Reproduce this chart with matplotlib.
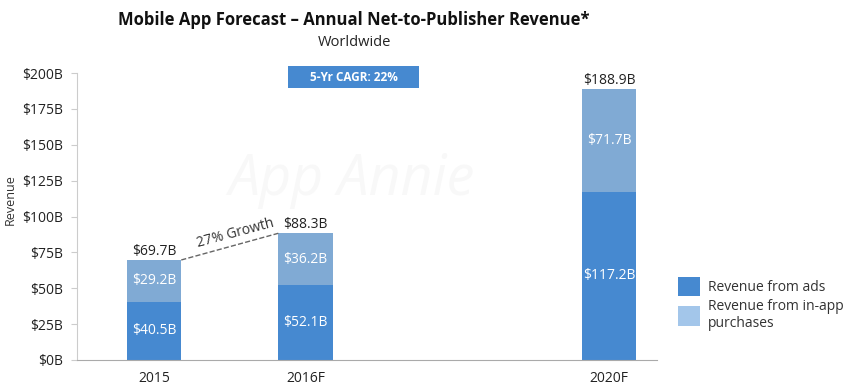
import matplotlib
matplotlib.use("Agg")
import matplotlib.pyplot as plt
from matplotlib.patches import Patch, Rectangle

plt.rcParams['font.family'] = ['Open Sans', 'DejaVu Sans']

categories = ["2015", "2016F", "2020F"]
positions = [0, 1, 3]
ads = [40.5, 52.1, 117.2]
inapp = [29.2, 36.2, 71.7]
totals = [69.7, 88.3, 188.9]
yticks = [0, 25, 50, 75, 100, 125, 150, 175, 200]

c_ads = "#4689d0"
c_inapp = "#80aad4"
c_inapp_leg = "#a3c6ea"

fig = plt.figure(figsize=(8.61, 3.89), dpi=100)
ax = fig.add_axes([77/861, 1-360/389, (657-77)/861, (360-73)/389])

w = 0.36
ax.bar(positions, ads, width=w, color=c_ads, zorder=2)
ax.bar(positions, inapp, width=w, bottom=ads, color=c_inapp, zorder=2)

for p, a, i, t in zip(positions, ads, inapp, totals):
    ax.text(p, a/2, f"${a}B", ha="center", va="center", color="white", fontsize=10)
    ax.text(p, a + i/2, f"${i}B", ha="center", va="center", color="white", fontsize=10)
    ax.text(p, t + 0.8, f"${t}B", ha="center", va="bottom", color="#222222", fontsize=10)

# growth dashed line
ax.plot([positions[0] + w/2, positions[1] - w/2], [totals[0], totals[1]],
        ls="--", color="#666666", lw=1, zorder=3)
ax.text((positions[0] + positions[1]) / 2 + 0.04, (totals[0] + totals[1]) / 2 + 9,
        "27% Growth", ha="center", va="center", rotation=15, fontsize=10, color="#333333")

# CAGR box
ax.add_patch(Rectangle((0.882, 189.5), 0.868, 15.4, facecolor=c_ads, edgecolor="none",
                       clip_on=False, zorder=3))
ax.text(1.316, 197.2, "5-Yr CAGR: 22%", ha="center", va="center", color="white",
        fontsize=8.5, fontweight="bold", zorder=4)

# watermark
ax.text(1.3, 125, "App Annie", ha="center", va="center", fontsize=40, color="#f8f8f8",
        style="italic", zorder=0)

ax.set_xlim(-0.507, 3.316)
ax.set_ylim(0, 200)
ax.set_yticks(yticks)
ax.set_yticklabels([f"${v}B" for v in yticks])
ax.set_xticks(positions)
ax.set_xticklabels(categories)
ax.tick_params(axis="y", length=4, color="#cccccc", labelsize=10, labelcolor="#222222", pad=6)
ax.tick_params(axis="x", length=0, labelsize=10, labelcolor="#222222", pad=8)
ax.spines["top"].set_visible(False)
ax.spines["right"].set_visible(False)
ax.spines["left"].set_color("#cccccc")
ax.spines["bottom"].set_color("#aaaaaa")

fig.text(10/861, 1-200/389, "Revenue", rotation=90, ha="center", va="center",
         fontsize=9, color="#333333")

fig.text(354/861, 1-20/389, "Mobile App Forecast \u2013 Annual Net-to-Publisher Revenue*",
         ha="center", va="center", fontsize=12, fontweight="bold", color="#111111")
fig.text(354/861, 1-42/389, "Worldwide", ha="center", va="center", fontsize=10.5, color="#222222")

handles = [Patch(facecolor=c_ads, edgecolor="none"),
           Patch(facecolor=c_inapp_leg, edgecolor="none")]
fig.legend(handles, ["Revenue from ads", "Revenue from in-app\npurchases"],
           loc="upper left", bbox_to_anchor=(665/861, 1-264/389), frameon=False,
           fontsize=10, handlelength=1.6, handleheight=1.8, handletextpad=0.6,
           labelspacing=0.2, labelcolor="#333333")

fig.savefig("out.png", dpi=100)
